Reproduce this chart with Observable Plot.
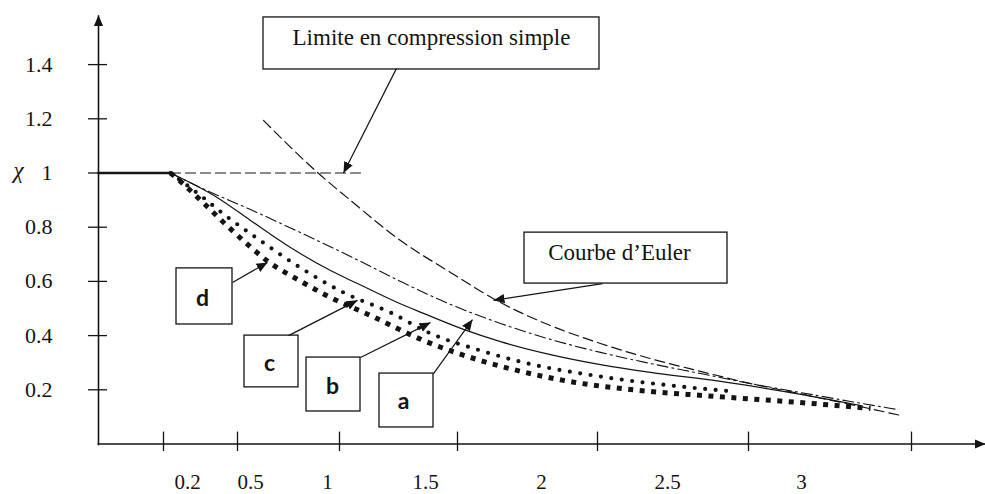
<!DOCTYPE html>
<html>
<head>
<meta charset="utf-8">
<script src="https://cdn.jsdelivr.net/npm/d3@7"></script>
<script src="https://cdn.jsdelivr.net/npm/@observablehq/plot@0.6"></script>
<style>
  html, body { margin: 0; padding: 0; background: #fff; }
  #chart svg { display: block; }
</style>
</head>
<body>
<div id="chart"></div>
<script>
// ---- axis ticks and labels (x in sketch units, χ on y) ----
const xTickPos = [0.65, 1.39, 2.41, 3.59, 4.99, 6.50, 8.13];
const xTickLabels = ["0.2", "0.5", "1", "1.5", "2", "2.5", "3"];
const xLabelPos = [0.89, 1.52, 2.29, 3.27, 4.43, 5.69, 7.03];
const yTicks = [0.2, 0.4, 0.6, 0.8, 1, 1.2, 1.4];
const yTickLabels = ["0.2", "0.4", "0.6", "0.8", "1", "1.2", "1.4"];

// ---- curves ----
const eulerLam = [1.65, 2.19, 2.52, 3.02, 3.52, 4.02, 4.52, 5.02, 5.52, 6.02, 6.52, 7.02, 7.52, 8.05];
const eulerChi = [1.194, 1.002, 0.899, 0.751, 0.633, 0.522, 0.437, 0.371, 0.315, 0.268, 0.223, 0.185, 0.146, 0.103];

const aLam = [0.72, 1.02, 1.52, 2.02, 2.52, 3.02, 3.52, 4.02, 4.52, 5.02, 5.52, 6.02, 6.52, 7.02, 7.52, 7.99];
const aChi = [1.0, 0.946, 0.865, 0.780, 0.692, 0.600, 0.515, 0.445, 0.386, 0.338, 0.297, 0.260, 0.223, 0.190, 0.157, 0.127];

const bLam = [0.72, 1.19, 1.52, 1.92, 2.32, 2.59, 2.99, 3.25, 3.65, 4.02, 4.52, 5.02, 5.52, 6.22, 6.85, 7.62];
const bChi = [1.0, 0.909, 0.825, 0.725, 0.640, 0.592, 0.522, 0.482, 0.423, 0.378, 0.330, 0.293, 0.264, 0.231, 0.194, 0.142];

const cLam = [0.72, 1.02, 1.27, 1.59, 2.00, 2.45, 2.92, 3.32, 3.82, 4.25, 5.02, 5.82, 6.35];
const cChi = [1.0, 0.917, 0.843, 0.758, 0.655, 0.559, 0.485, 0.408, 0.345, 0.301, 0.249, 0.212, 0.194];

const dLam = [0.72, 0.87, 1.02, 1.29, 1.52, 1.69, 2.02, 2.27, 2.75, 3.25, 3.82, 4.27, 4.77, 5.32, 6.19, 7.02, 7.72];
const dChi = [1.0, 0.952, 0.900, 0.804, 0.727, 0.675, 0.601, 0.550, 0.469, 0.382, 0.308, 0.264, 0.227, 0.201, 0.175, 0.153, 0.131];

// plateau χ = 1 and compression limit
const plateauLam = [0, 0.72];
const limitLam = [0.72, 2.62];
const plateauChi = 1;

// ---- annotations ----
const boxText = ["Limite en compression simple", "Courbe d\u2019Euler", "d", "c", "b", "a"];
const boxX1 = [1.65, 4.26, 0.78, 1.46, 2.08, 2.81];
const boxX2 = [5.01, 6.29, 1.34, 2.00, 2.62, 3.35];
const boxY1 = [1.574, 0.780, 0.648, 0.400, 0.319, 0.260];
const boxY2 = [1.382, 0.592, 0.441, 0.209, 0.120, 0.061];
const textX = [3.33, 5.21, 1.04, 1.71, 2.34, 3.05];
const textY = [1.499, 0.706, 0.537, 0.297, 0.212, 0.157];
const arrowFromX = [2.98, 5.04, 1.34, 1.90, 2.62, 3.35];
const arrowFromY = [1.386, 0.592, 0.596, 0.400, 0.319, 0.260];
const arrowToX = [2.45, 3.95, 1.69, 2.59, 3.32, 3.74];
const arrowToY = [1.000, 0.530, 0.670, 0.530, 0.448, 0.459];

const toRows = (xs, ys) => xs.map((x, i) => ({x, y: ys[i]}));
const boxes = boxText.map((t, i) => ({
  t, x1: boxX1[i], x2: boxX2[i], y1: boxY1[i], y2: boxY2[i],
  tx: textX[i], ty: textY[i],
  ax1: arrowFromX[i], ay1: arrowFromY[i], ax2: arrowToX[i], ay2: arrowToY[i]
}));
const serifBoxes = boxes.slice(0, 2);
const letterBoxes = boxes.slice(2);

const ink = "#141414";
const serif = "Liberation Serif, Times New Roman, serif";

const svg = Plot.plot({
  width: 985,
  height: 494,
  x: {domain: [0, 8.87], range: [98, 985], axis: null},
  y: {domain: [0, 1.6], range: [443.5, 9.9], axis: null},
  style: {background: "white", overflow: "visible"},
  marks: [
    // axes with arrows
    Plot.link([0], {x1: -0.01, y1: 0, x2: 8.87, y2: 0, stroke: ink, strokeWidth: 1.6, markerEnd: "arrow"}),
    Plot.link([0], {x1: 0, y1: -0.005, x2: 0, y2: 1.582, stroke: ink, strokeWidth: 1.6, markerEnd: "arrow"}),
    // ticks
    Plot.ruleX(xTickPos, {y1: 0.044, y2: -0.028, stroke: ink, strokeWidth: 1.3}),
    Plot.ruleY(yTicks, {x1: -0.10, x2: 0.09, stroke: ink, strokeWidth: 1.3}),
    // tick labels
    Plot.text(xTickLabels, {x: (d, i) => xLabelPos[i], y: -0.140, text: d => d,
      fontFamily: serif, fontSize: 21, fill: ink, textAnchor: "middle"}),
    Plot.text(yTickLabels, {x: -0.46, y: (d, i) => yTicks[i], text: d => d,
      fontFamily: serif, fontSize: 22, fill: ink, textAnchor: "end"}),
    Plot.text(["\u03c7"], {x: -0.80, y: 1.01, text: d => d,
      fontFamily: serif, fontStyle: "italic", fontSize: 23, fill: ink, textAnchor: "middle"}),
    // plateau and compression limit
    Plot.line(plateauLam.map(x => ({x, y: plateauChi})), {x: "x", y: "y", stroke: ink, strokeWidth: 2.6}),
    Plot.line(limitLam.map(x => ({x, y: plateauChi})), {x: "x", y: "y", stroke: ink, strokeWidth: 1.2, strokeDasharray: "10,5"}),
    // Euler
    Plot.line(toRows(eulerLam, eulerChi), {x: "x", y: "y", curve: "monotone-x",
      stroke: ink, strokeWidth: 1.2, strokeDasharray: "10,5"}),
    // curve a : dash-dot
    Plot.line(toRows(aLam, aChi), {x: "x", y: "y", curve: "monotone-x",
      stroke: ink, strokeWidth: 1.1, strokeDasharray: "11,4,2,4"}),
    // curve b : solid
    Plot.line(toRows(bLam, bChi), {x: "x", y: "y", curve: "monotone-x",
      stroke: ink, strokeWidth: 1.2}),
    // curve c : round dots
    Plot.line(toRows(cLam, cChi), {x: "x", y: "y", curve: "monotone-x",
      stroke: ink, strokeWidth: 4.2, strokeDasharray: "0,10.5", strokeLinecap: "round"}),
    // curve d : square dots
    Plot.line(toRows(dLam, dChi), {x: "x", y: "y", curve: "monotone-x",
      stroke: ink, strokeWidth: 5, strokeDasharray: "5,6.5", strokeLinecap: "butt"}),
    // annotation boxes
    Plot.rect(boxes, {x1: "x1", x2: "x2", y1: "y1", y2: "y2", fill: "white", stroke: ink, strokeWidth: 1.3}),
    Plot.text(serifBoxes, {x: "tx", y: "ty", text: "t", fontFamily: serif, fontSize: 23, fill: ink, textAnchor: "middle"}),
    Plot.text(letterBoxes, {x: "tx", y: "ty", text: "t", fontFamily: "Lato, Open Sans, sans-serif",
      fontWeight: "bold", fontSize: 23, fill: ink, textAnchor: "middle"}),
    // annotation arrows
    Plot.link(boxes, {x1: "ax1", y1: "ay1", x2: "ax2", y2: "ay2", stroke: ink, strokeWidth: 1.2, markerEnd: "arrow"})
  ]
});

// filled triangular arrow heads
svg.querySelectorAll("marker").forEach(m => {
  m.setAttribute("viewBox", "-10 -5 10 10");
  m.setAttribute("markerUnits", "userSpaceOnUse");
  m.setAttribute("markerWidth", "11");
  m.setAttribute("markerHeight", "11");
  m.setAttribute("refX", "0");
  m.setAttribute("refY", "0");
  m.setAttribute("fill", ink);
  m.setAttribute("stroke", "none");
  const p = m.querySelector("path");
  if (p) {
    p.setAttribute("d", "M-10,-4.3L0,0L-10,4.3Z");
    p.setAttribute("fill", ink);
    p.setAttribute("stroke", "none");
  }
});

document.getElementById("chart").appendChild(svg);
</script>
</body>
</html>
